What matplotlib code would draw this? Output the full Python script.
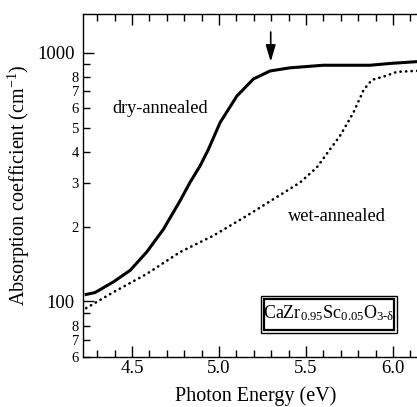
import matplotlib
matplotlib.use("Agg")
import math
import matplotlib.pyplot as plt
from matplotlib.ticker import LogLocator, FixedLocator, FuncFormatter, MultipleLocator
from matplotlib.patches import Rectangle

plt.rcParams['font.family'] = ['Liberation Serif', 'DejaVu Serif']
plt.rcParams['mathtext.fontset'] = 'custom'
plt.rcParams['mathtext.rm'] = 'Liberation Serif'
plt.rcParams['mathtext.it'] = 'Liberation Serif'
plt.rcParams['mathtext.bf'] = 'Liberation Serif:bold'

# ---- data ----
dry_E = [4.236, 4.287, 4.393, 4.489, 4.584, 4.680, 4.776, 4.833, 4.891, 4.939,
         5.006, 5.102, 5.198, 5.293, 5.408, 5.599, 5.868, 5.983, 6.136, 6.2]
dry_alpha = [106.7, 108.6, 119.9, 133.4, 158, 195, 254, 301, 351, 409,
             524, 669, 785, 845, 870, 891, 891, 906, 921, 928]

wet_E = [4.236, 4.393, 4.584, 4.776, 4.968, 5.159, 5.351, 5.466, 5.562, 5.638,
         5.695, 5.772, 5.832, 5.879, 5.946, 6.022, 6.136, 6.2]
wet_alpha = [94, 109, 129, 158, 184, 221, 268, 301, 346, 409,
             463, 574, 711, 778, 802, 838, 846, 848]

arrow_E = 5.297
arrow_from, arrow_to = 1212, 921

x_major = [4.5, 5.0, 5.5, 6.0]
y_minor_labelled = [2, 3, 4, 5, 6, 7, 8]

fig = plt.figure(figsize=(4.17, 4.07), dpi=100)
W, H = 417, 407
left_px, right_px, top_px, bot_px = 83, 427.8, 14, 357
ax = fig.add_axes([left_px / W, 1 - bot_px / H, (right_px - left_px) / W, (bot_px - top_px) / H])

ax.plot(dry_E, dry_alpha, color='black', lw=2.2, solid_joinstyle='round')
ax.plot(wet_E, wet_alpha, color='black', lw=1.9, linestyle=(0, (0.1, 2.0)),
        dash_capstyle='round')

ax.set_yscale('log')
ax.set_xlim(4.218, 6.2)
ax.set_ylim(59.8, 1432)

ax.xaxis.set_major_locator(FixedLocator(x_major))
ax.xaxis.set_major_formatter(FuncFormatter(lambda v, p: f"{v:.1f}"))
ax.xaxis.set_minor_locator(MultipleLocator(0.1))

ax.yaxis.set_major_locator(LogLocator(base=10, subs=(1.0,)))
ax.yaxis.set_major_formatter(FuncFormatter(lambda v, p: f"{int(round(v))}"))
ax.yaxis.set_minor_locator(LogLocator(base=10, subs=(2, 3, 4, 5, 6, 7, 8, 9)))

def minor_fmt(v, p):
    lead = v / 10 ** math.floor(math.log10(v) + 1e-9)
    d = int(round(lead))
    return str(d) if d in y_minor_labelled else ''
ax.yaxis.set_minor_formatter(FuncFormatter(minor_fmt))

ax.tick_params(which='both', direction='in', top=True, right=True, width=1.0, color='black')
ax.tick_params(which='major', length=8, labelsize=13.5)
ax.tick_params(which='minor', length=5)
ax.tick_params(axis='x', which='major', pad=2.5)
ax.tick_params(axis='y', which='minor', labelsize=10.5, pad=3)
ax.tick_params(axis='y', which='major', pad=6)
ax.tick_params(axis='x', which='minor', labelbottom=False)
for s in ax.spines.values():
    s.set_linewidth(1.0)

ax.set_xlabel('Photon Energy (eV)', fontsize=14.5, labelpad=6)
ax.set_ylabel(r'Absorption coefficient (cm$^{-1}$)', fontsize=14.5, labelpad=4)

ax.text(4.66, 597, 'dry-annealed', fontsize=13.2, ha='center', va='center')
ax.text(5.676, 219, 'wet-annealed', fontsize=13.2, ha='center', va='center')

ax.annotate('', xy=(arrow_E, arrow_to), xytext=(arrow_E, arrow_from),
            arrowprops=dict(arrowstyle='-|>,head_length=1.0,head_width=0.3',
                            color='black', lw=1.2, mutation_scale=10, shrinkA=0, shrinkB=0))

# double-framed composition box
def px2ax(x, y):
    return (x - left_px) / (right_px - left_px), (bot_px - y) / (bot_px - top_px)
x0, y1 = px2ax(261, 296)
x1, y0 = px2ax(397, 333)
ax.add_patch(Rectangle((x0, y0), x1 - x0, y1 - y0, transform=ax.transAxes,
                       fill=False, lw=1.0, ec='black'))
ix0, iy1 = px2ax(264, 299)
ix1, iy0 = px2ax(394, 330)
ax.add_patch(Rectangle((ix0, iy0), ix1 - ix0, iy1 - iy0, transform=ax.transAxes,
                       fill=False, lw=1.6, ec='black'))
ax.text((x0 + x1) / 2, (y0 + y1) / 2 + 0.005,
        r'$\mathrm{CaZr}_{\mathrm{0.95}}\mathrm{Sc}_{\mathrm{0.05}}\mathrm{O}_{\mathrm{3\text{-}\delta}}$',
        transform=ax.transAxes, ha='center', va='center', fontsize=13)

fig.savefig('out.png', dpi=100)
